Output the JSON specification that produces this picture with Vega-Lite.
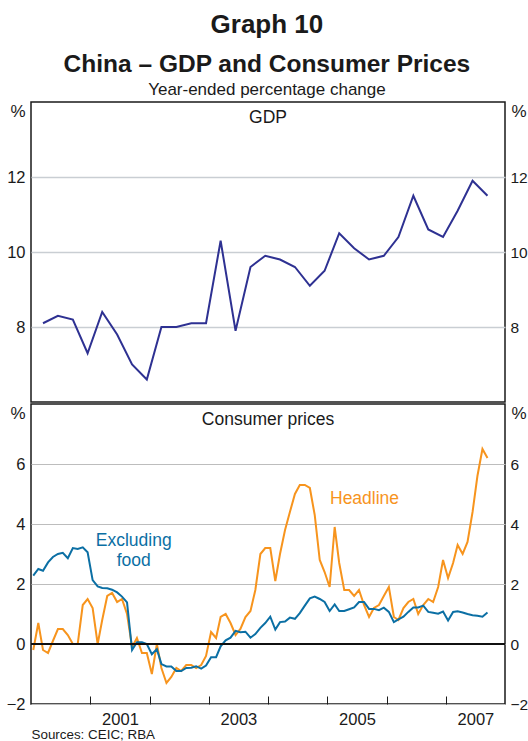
{
  "$schema": "https://vega.github.io/schema/vega-lite/v6.json",
  "autosize": {"type": "pad"},
  "padding": {"left": 5, "top": 11, "right": 0, "bottom": 0},
  "background": "white",
  "config": {
    "font": "Liberation Sans",
    "view": {"stroke": "#1a1a1a", "strokeWidth": 1.5},
    "axis": {"labelFont": "Liberation Sans", "labelFontSize": 16.5, "labelColor": "#1a1a1a", "titleFont": "Liberation Sans", "titleColor": "#1a1a1a", "domain": false, "ticks": false, "labelPadding": 6},
    "concat": {"spacing": 0}
  },
  "datasets": {
    "gdp": [
      {"date": "2000-03-15", "gdp": 8.1}, {"date": "2000-06-15", "gdp": 8.3}, {"date": "2000-09-15", "gdp": 8.2}, {"date": "2000-12-15", "gdp": 7.3},
      {"date": "2001-03-15", "gdp": 8.4}, {"date": "2001-06-15", "gdp": 7.8}, {"date": "2001-09-15", "gdp": 7.0}, {"date": "2001-12-15", "gdp": 6.6},
      {"date": "2002-03-15", "gdp": 8.0}, {"date": "2002-06-15", "gdp": 8.0}, {"date": "2002-09-15", "gdp": 8.1}, {"date": "2002-12-15", "gdp": 8.1},
      {"date": "2003-03-15", "gdp": 10.3}, {"date": "2003-06-15", "gdp": 7.9}, {"date": "2003-09-15", "gdp": 9.6}, {"date": "2003-12-15", "gdp": 9.9},
      {"date": "2004-03-15", "gdp": 9.8}, {"date": "2004-06-15", "gdp": 9.6}, {"date": "2004-09-15", "gdp": 9.1}, {"date": "2004-12-15", "gdp": 9.5},
      {"date": "2005-03-15", "gdp": 10.5}, {"date": "2005-06-15", "gdp": 10.1}, {"date": "2005-09-15", "gdp": 9.8}, {"date": "2005-12-15", "gdp": 9.9},
      {"date": "2006-03-15", "gdp": 10.4}, {"date": "2006-06-15", "gdp": 11.5}, {"date": "2006-09-15", "gdp": 10.6}, {"date": "2006-12-15", "gdp": 10.4},
      {"date": "2007-03-15", "gdp": 11.1}, {"date": "2007-06-15", "gdp": 11.9}, {"date": "2007-09-15", "gdp": 11.5}
    ],
    "cpi": [
      {"date": "2000-01-15", "headline": -0.2, "exfood": 2.28},
      {"date": "2000-02-15", "headline": 0.7, "exfood": 2.5},
      {"date": "2000-03-15", "headline": -0.2, "exfood": 2.44},
      {"date": "2000-04-15", "headline": -0.3, "exfood": 2.72},
      {"date": "2000-05-15", "headline": 0.1, "exfood": 2.9},
      {"date": "2000-06-15", "headline": 0.5, "exfood": 3.0},
      {"date": "2000-07-15", "headline": 0.5, "exfood": 3.04},
      {"date": "2000-08-15", "headline": 0.3, "exfood": 2.86},
      {"date": "2000-09-15", "headline": 0.0, "exfood": 3.2},
      {"date": "2000-10-15", "headline": 0.0, "exfood": 3.17},
      {"date": "2000-11-15", "headline": 1.3, "exfood": 3.22},
      {"date": "2000-12-15", "headline": 1.5, "exfood": 3.06},
      {"date": "2001-01-15", "headline": 1.2, "exfood": 2.13},
      {"date": "2001-02-15", "headline": 0.0, "exfood": 1.92},
      {"date": "2001-03-15", "headline": 0.8, "exfood": 1.87},
      {"date": "2001-04-15", "headline": 1.6, "exfood": 1.86},
      {"date": "2001-05-15", "headline": 1.7, "exfood": 1.81},
      {"date": "2001-06-15", "headline": 1.4, "exfood": 1.72},
      {"date": "2001-07-15", "headline": 1.5, "exfood": 1.58},
      {"date": "2001-08-15", "headline": 1.0, "exfood": 1.39},
      {"date": "2001-09-15", "headline": -0.1, "exfood": -0.2},
      {"date": "2001-10-15", "headline": 0.2, "exfood": 0.06},
      {"date": "2001-11-15", "headline": -0.3, "exfood": 0.06},
      {"date": "2001-12-15", "headline": -0.3, "exfood": 0.0},
      {"date": "2002-01-15", "headline": -1.0, "exfood": -0.34},
      {"date": "2002-02-15", "headline": 0.0, "exfood": -0.17},
      {"date": "2002-03-15", "headline": -0.8, "exfood": -0.67},
      {"date": "2002-04-15", "headline": -1.3, "exfood": -0.75},
      {"date": "2002-05-15", "headline": -1.1, "exfood": -0.75},
      {"date": "2002-06-15", "headline": -0.8, "exfood": -0.9},
      {"date": "2002-07-15", "headline": -0.9, "exfood": -0.9},
      {"date": "2002-08-15", "headline": -0.7, "exfood": -0.8},
      {"date": "2002-09-15", "headline": -0.7, "exfood": -0.79},
      {"date": "2002-10-15", "headline": -0.8, "exfood": -0.74},
      {"date": "2002-11-15", "headline": -0.7, "exfood": -0.82},
      {"date": "2002-12-15", "headline": -0.4, "exfood": -0.72},
      {"date": "2003-01-15", "headline": 0.4, "exfood": -0.44},
      {"date": "2003-02-15", "headline": 0.2, "exfood": -0.44},
      {"date": "2003-03-15", "headline": 0.9, "exfood": -0.08},
      {"date": "2003-04-15", "headline": 1.0, "exfood": 0.12},
      {"date": "2003-05-15", "headline": 0.7, "exfood": 0.21},
      {"date": "2003-06-15", "headline": 0.3, "exfood": 0.44},
      {"date": "2003-07-15", "headline": 0.5, "exfood": 0.39},
      {"date": "2003-08-15", "headline": 0.9, "exfood": 0.41},
      {"date": "2003-09-15", "headline": 1.1, "exfood": 0.21},
      {"date": "2003-10-15", "headline": 1.8, "exfood": 0.33},
      {"date": "2003-11-15", "headline": 3.0, "exfood": 0.54},
      {"date": "2003-12-15", "headline": 3.2, "exfood": 0.7},
      {"date": "2004-01-15", "headline": 3.2, "exfood": 0.91},
      {"date": "2004-02-15", "headline": 2.1, "exfood": 0.48},
      {"date": "2004-03-15", "headline": 3.0, "exfood": 0.73},
      {"date": "2004-04-15", "headline": 3.8, "exfood": 0.75},
      {"date": "2004-05-15", "headline": 4.4, "exfood": 0.88},
      {"date": "2004-06-15", "headline": 5.0, "exfood": 0.84},
      {"date": "2004-07-15", "headline": 5.3, "exfood": 1.03},
      {"date": "2004-08-15", "headline": 5.3, "exfood": 1.28},
      {"date": "2004-09-15", "headline": 5.2, "exfood": 1.52},
      {"date": "2004-10-15", "headline": 4.3, "exfood": 1.58},
      {"date": "2004-11-15", "headline": 2.8, "exfood": 1.5},
      {"date": "2004-12-15", "headline": 2.4, "exfood": 1.4},
      {"date": "2005-01-15", "headline": 1.9, "exfood": 1.1},
      {"date": "2005-02-15", "headline": 3.9, "exfood": 1.32},
      {"date": "2005-03-15", "headline": 2.7, "exfood": 1.1},
      {"date": "2005-04-15", "headline": 1.8, "exfood": 1.1},
      {"date": "2005-05-15", "headline": 1.8, "exfood": 1.16},
      {"date": "2005-06-15", "headline": 1.6, "exfood": 1.22},
      {"date": "2005-07-15", "headline": 1.8, "exfood": 1.4},
      {"date": "2005-08-15", "headline": 1.3, "exfood": 1.4},
      {"date": "2005-09-15", "headline": 0.9, "exfood": 1.17},
      {"date": "2005-10-15", "headline": 1.2, "exfood": 1.17},
      {"date": "2005-11-15", "headline": 1.3, "exfood": 1.13},
      {"date": "2005-12-15", "headline": 1.6, "exfood": 1.21},
      {"date": "2006-01-15", "headline": 1.9, "exfood": 1.07},
      {"date": "2006-02-15", "headline": 0.9, "exfood": 0.73},
      {"date": "2006-03-15", "headline": 0.8, "exfood": 0.82},
      {"date": "2006-04-15", "headline": 1.2, "exfood": 0.91},
      {"date": "2006-05-15", "headline": 1.4, "exfood": 1.07},
      {"date": "2006-06-15", "headline": 1.5, "exfood": 1.22},
      {"date": "2006-07-15", "headline": 1.0, "exfood": 1.22},
      {"date": "2006-08-15", "headline": 1.3, "exfood": 1.28},
      {"date": "2006-09-15", "headline": 1.5, "exfood": 1.07},
      {"date": "2006-10-15", "headline": 1.4, "exfood": 1.04},
      {"date": "2006-11-15", "headline": 1.9, "exfood": 1.01},
      {"date": "2006-12-15", "headline": 2.8, "exfood": 1.08},
      {"date": "2007-01-15", "headline": 2.2, "exfood": 0.78},
      {"date": "2007-02-15", "headline": 2.7, "exfood": 1.07},
      {"date": "2007-03-15", "headline": 3.3, "exfood": 1.09},
      {"date": "2007-04-15", "headline": 3.0, "exfood": 1.05},
      {"date": "2007-05-15", "headline": 3.4, "exfood": 1.0},
      {"date": "2007-06-15", "headline": 4.4, "exfood": 0.96},
      {"date": "2007-07-15", "headline": 5.6, "exfood": 0.94},
      {"date": "2007-08-15", "headline": 6.5, "exfood": 0.91},
      {"date": "2007-09-15", "headline": 6.2, "exfood": 1.05}
    ]
  },
  "title": {
    "text": "Graph 10",
    "subtitle": "China – GDP and Consumer Prices",
    "font": "Liberation Sans",
    "fontSize": 26,
    "fontWeight": "bold",
    "color": "#1a1a1a",
    "subtitleFont": "Liberation Sans",
    "subtitleFontSize": 24.5,
    "subtitleFontWeight": "bold",
    "subtitleColor": "#1a1a1a",
    "subtitlePadding": 15,
    "anchor": "middle",
    "offset": 5
  },
  "vconcat": [
    {
      "title": {"text": "Year-ended percentage change", "font": "Liberation Sans", "fontSize": 17, "fontWeight": "normal", "color": "#1a1a1a", "anchor": "middle", "offset": 2},
      "spacing": 0,
      "vconcat": [
        {
          "width": 474,
          "height": 300,
          "title": {"text": "GDP", "font": "Liberation Sans", "fontSize": 17.5, "fontWeight": "normal", "color": "#1a1a1a", "anchor": "middle", "frame": "group", "offset": -33, "baseline": "middle"},
          "data": {"name": "gdp"},
          "layer": [
            {
              "mark": {"type": "line", "color": "#2E3192", "strokeWidth": 2},
              "encoding": {
                "x": {"field": "date", "type": "temporal", "scale": {"type": "utc", "domain": [{"year": 2000, "month": 1, "date": 1, "utc": true}, {"year": 2008, "month": 1, "date": 1, "utc": true}]}, "axis": null},
                "y": {"field": "gdp", "type": "quantitative", "scale": {"domain": [6, 14], "nice": false, "zero": false},
                  "axis": {"orient": "left", "values": [8, 10, 12], "grid": true, "gridColor": "#c9ced3", "gridWidth": 1.3, "title": "%", "titleFontSize": 17, "titleFontWeight": "normal", "titleAngle": 0, "titleX": -6, "titleY": 9, "titleAlign": "right", "titleBaseline": "middle"}}
              }
            },
            {
              "mark": {"type": "line", "opacity": 0},
              "encoding": {
                "x": {"field": "date", "type": "temporal"},
                "y": {"field": "gdp", "type": "quantitative",
                  "axis": {"orient": "right", "values": [8, 10, 12], "grid": false, "title": "%", "titleFontSize": 17, "titleFontWeight": "normal", "titleAngle": 0, "titleX": 6, "titleY": 9, "titleAlign": "left", "titleBaseline": "middle", "labelPadding": 5, "labelFontSize": 15.5}}
              }
            }
          ],
          "resolve": {"axis": {"y": "independent"}}
        },
        {
          "width": 474,
          "height": 300,
          "title": {"text": "Consumer prices", "font": "Liberation Sans", "fontSize": 17.5, "fontWeight": "normal", "color": "#1a1a1a", "anchor": "middle", "frame": "group", "offset": -33, "baseline": "middle"},
          "data": {"name": "cpi"},
          "layer": [
            {
              "mark": {"type": "line", "color": "#F7941D", "strokeWidth": 2},
              "encoding": {
                "x": {"field": "date", "type": "temporal", "scale": {"type": "utc", "domain": [{"year": 2000, "month": 1, "date": 1, "utc": true}, {"year": 2008, "month": 1, "date": 1, "utc": true}]},
                  "axis": {"orient": "bottom", "values": [{"year": 2001, "month": 1, "date": 1, "utc": true}, {"year": 2002, "month": 1, "date": 1, "utc": true}, {"year": 2003, "month": 1, "date": 1, "utc": true}, {"year": 2004, "month": 1, "date": 1, "utc": true}, {"year": 2005, "month": 1, "date": 1, "utc": true}, {"year": 2006, "month": 1, "date": 1, "utc": true}, {"year": 2007, "month": 1, "date": 1, "utc": true}],
                    "labelExpr": "utcyear(datum.value) % 2 == 1 ? utcFormat(datum.value, '%Y') : ''", "labelOffset": 29.6, "labelFlush": false, "labelOverlap": false, "labelBound": false,
                    "ticks": true, "tickSize": -8, "tickColor": "#1a1a1a", "tickWidth": 1, "labelPadding": 15, "grid": false,
                    "title": "Sources: CEIC; RBA", "titleFontSize": 13.4, "titleFontWeight": "normal", "titleX": 0, "titleY": 34, "titleAlign": "left", "titleBaseline": "alphabetic"}},
                "y": {"field": "headline", "type": "quantitative", "scale": {"domain": [-2, 8], "nice": false, "zero": false},
                  "axis": {"orient": "left", "values": [-2, 0, 2, 4, 6], "grid": true, "gridColor": "#bdbdbd", "gridWidth": 1.2, "title": "%", "titleFontSize": 17, "titleFontWeight": "normal", "titleAngle": 0, "titleX": -6, "titleY": 9, "titleAlign": "right", "titleBaseline": "middle"}}
              }
            },
            {
              "mark": {"type": "line", "color": "#0B6FA4", "strokeWidth": 2},
              "encoding": {
                "x": {"field": "date", "type": "temporal"},
                "y": {"field": "exfood", "type": "quantitative", "axis": null}
              }
            },
            {
              "mark": {"type": "rule", "color": "#111111", "strokeWidth": 1.2},
              "encoding": {
                "y": {"datum": 0, "type": "quantitative",
                  "axis": {"orient": "right", "values": [-2, 0, 2, 4, 6], "grid": false, "title": "%", "titleFontSize": 17, "titleFontWeight": "normal", "titleAngle": 0, "titleX": 6, "titleY": 9, "titleAlign": "left", "titleBaseline": "middle", "labelPadding": 5, "labelFontSize": 15.5}}
              }
            },
            {
              "data": {"values": [{"label": "Headline"}]},
              "mark": {"type": "text", "color": "#F7941D", "fontSize": 17.5, "font": "Liberation Sans"},
              "encoding": {
                "x": {"datum": {"year": 2005, "month": 8, "date": 18, "utc": true}, "type": "temporal"},
                "y": {"datum": 4.85, "type": "quantitative", "axis": null},
                "text": {"field": "label"}
              }
            },
            {
              "data": {"values": [{"label": ["Excluding", "food"]}]},
              "mark": {"type": "text", "color": "#0B6FA4", "fontSize": 17.5, "font": "Liberation Sans", "lineHeight": 20},
              "encoding": {
                "x": {"datum": {"year": 2001, "month": 9, "date": 25, "utc": true}, "type": "temporal"},
                "y": {"datum": 3.42, "type": "quantitative", "axis": null},
                "text": {"field": "label"}
              }
            }
          ],
          "resolve": {"axis": {"y": "independent"}}
        }
      ]
    }
  ]
}
